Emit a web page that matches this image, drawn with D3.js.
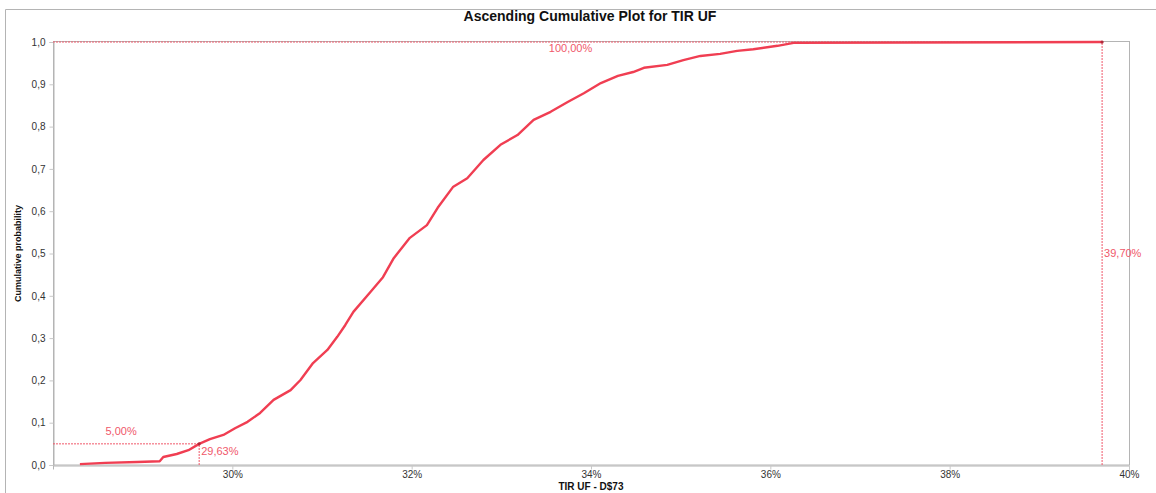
<!DOCTYPE html>
<html>
<head>
<meta charset="utf-8">
<script src="https://cdn.jsdelivr.net/npm/d3@7"></script>
<style>
  body { margin: 0; background: #fff; }
  text { font-family: Arial, "Liberation Sans", sans-serif; }
</style>
</head>
<body>
<div id="cdf-chart"></div>
<script>
// ascending cumulative plot, values //

// TIR UF (%) and the cumulative probability at each point
var tirValues = [28.30, 28.58, 28.94, 29.19, 29.23, 29.38, 29.51, 29.63, 29.75, 29.90,
                 30.03, 30.17, 30.31, 30.46, 30.65, 30.76, 30.90, 31.06, 31.17, 31.26,
                 31.35, 31.54, 31.68, 31.80, 31.98, 32.17, 32.29, 32.46, 32.62, 32.80,
                 32.99, 33.18, 33.36, 33.55, 33.74, 33.92, 34.11, 34.30, 34.47, 34.59,
                 34.85, 35.03, 35.22, 35.44, 35.63, 35.81, 36.08, 36.26, 39.70];
var cumProb   = [0.002, 0.005, 0.007, 0.009, 0.019, 0.026, 0.035, 0.050, 0.061, 0.071,
                 0.087, 0.102, 0.123, 0.154, 0.177, 0.201, 0.241, 0.272, 0.303, 0.331,
                 0.362, 0.409, 0.444, 0.489, 0.537, 0.567, 0.608, 0.657, 0.678, 0.721,
                 0.757, 0.780, 0.816, 0.835, 0.858, 0.879, 0.903, 0.920, 0.929, 0.939,
                 0.946, 0.957, 0.967, 0.972, 0.979, 0.983, 0.991, 0.998, 1.000];

var xTicks = [30, 32, 34, 36, 38, 40];
var yTicks = [0, 0.1, 0.2, 0.3, 0.4, 0.5, 0.6, 0.7, 0.8, 0.9, 1.0];

// markers shown on the plot: [x value, probability]
var lowMarker  = [29.63, 0.05];
var highMarker = [39.70, 1.00];

var w = 1156;
var h = 493;
var margin = {top: 42, right: 27, bottom: 28, left: 53};

var red = "#f03e52";
var pink = "#f0586a";

// comma as decimal separator
var locale = d3.formatLocale({decimal: ",", thousands: ".", grouping: [3], currency: ["", "$"]});
var fmt1 = locale.format(".1f");
var fmt2 = locale.format(".2f");

var svg = d3.select("#cdf-chart")
            .append("svg")
            .attr("width", w)
            .attr("height", h);

// outer frame
svg.append("path")
   .attr("d", "M5.5," + h + "V9.5H" + w)
   .attr("fill", "none")
   .attr("stroke", "#b4b4b4");

var x = d3.scaleLinear().domain([28, 40]).range([margin.left, w - margin.right]);
var y = d3.scaleLinear().domain([0, 1]).range([h - margin.bottom, margin.top]);

// plot border
svg.append("rect")
   .attr("x", x(28) + 0.5)
   .attr("y", y(1) - 0.5)
   .attr("width", x(40) - x(28))
   .attr("height", y(0) - y(1) + 0.5)
   .attr("fill", "none")
   .attr("stroke", "#b4b4b4");

// axes
var xAxis = d3.axisBottom(x)
              .tickValues(xTicks)
              .tickSize(4)
              .tickFormat(function(d) { return d + "%"; });

var yAxis = d3.axisLeft(y)
              .tickValues(yTicks)
              .tickSize(4)
              .tickFormat(fmt1);

var gx = svg.append("g")
            .attr("transform", "translate(0," + (y(0) + 0.5) + ")")
            .call(xAxis);
var gy = svg.append("g")
            .attr("transform", "translate(" + (x(28) + 0.5) + ",0)")
            .call(yAxis);

[gx, gy].forEach(function(g) {
  g.select(".domain").attr("stroke", "#b4b4b4");
  g.selectAll(".tick line").attr("stroke", "#c8c8c8");
  g.selectAll(".tick text")
   .attr("fill", "#333")
   .style("font-size", "10px")
   .style("font-family", "Arial, 'Liberation Sans', sans-serif");
});
gx.selectAll(".tick text").attr("y", 12.5).attr("dy", 0);
gy.selectAll(".tick text").attr("x", -8);

// titles
svg.append("text")
   .attr("x", 590)
   .attr("y", 21)
   .attr("text-anchor", "middle")
   .style("font-size", "14px")
   .style("font-weight", "bold")
   .attr("fill", "#111")
   .text("Ascending Cumulative Plot for TIR UF");

svg.append("text")
   .attr("x", (x(28) + x(40)) / 2)
   .attr("y", 489.5)
   .attr("text-anchor", "middle")
   .style("font-size", "10px")
   .style("font-weight", "bold")
   .attr("fill", "#111")
   .text("TIR UF - D$73");

svg.append("text")
   .attr("transform", "translate(21," + ((y(0) + y(1)) / 2) + ") rotate(-90)")
   .attr("text-anchor", "middle")
   .style("font-size", "9px")
   .style("font-weight", "bold")
   .attr("fill", "#111")
   .text("Cumulative probability");

// marker guide lines
var guides = [
  [lowMarker[0], lowMarker[0], 0, lowMarker[1]],
  [28, lowMarker[0], lowMarker[1], lowMarker[1]],
  [28, highMarker[0], highMarker[1], highMarker[1]],
  [highMarker[0], highMarker[0], 0, highMarker[1]]
];
svg.selectAll("line.guide")
   .data(guides)
   .enter()
   .append("line")
   .attr("class", "guide")
   .attr("x1", function(d) { return x(d[0]); })
   .attr("x2", function(d) { return x(d[1]); })
   .attr("y1", function(d) { return y(d[2]); })
   .attr("y2", function(d) { return y(d[3]); })
   .attr("stroke", pink)
   .attr("stroke-width", 1)
   .attr("stroke-dasharray", "2,1");

// the curve
var points = tirValues.map(function(v, i) { return [v, cumProb[i]]; });
var line = d3.line()
             .x(function(d) { return x(d[0]); })
             .y(function(d) { return y(d[1]); });

svg.append("path")
   .datum(points)
   .attr("d", line)
   .attr("fill", "none")
   .attr("stroke", red)
   .attr("stroke-width", 2.4)
   .attr("stroke-linejoin", "round");

// small dots where the guides meet the curve
svg.selectAll("circle.marker")
   .data([lowMarker, highMarker])
   .enter()
   .append("circle")
   .attr("class", "marker")
   .attr("cx", function(d) { return x(d[0]); })
   .attr("cy", function(d) { return y(d[1]); })
   .attr("r", 1.6)
   .attr("fill", "#b02a3a");

// marker labels
function label(tx, ty, anchor, str) {
  svg.append("text")
     .attr("x", tx)
     .attr("y", ty)
     .attr("text-anchor", anchor)
     .style("font-size", "11px")
     .attr("fill", pink)
     .text(str);
}
label((x(28) + x(lowMarker[0])) / 2 - 5, y(lowMarker[1]) - 9, "middle", fmt2(lowMarker[1] * 100) + "%");
label(x(lowMarker[0]) + 2, y(lowMarker[1]) + 11, "start", fmt2(lowMarker[0]) + "%");
label((x(28) + x(highMarker[0])) / 2 - 7, y(highMarker[1]) + 10, "middle", fmt2(highMarker[1] * 100) + "%");
label(x(highMarker[0]) + 2, (y(0) + y(1)) / 2 + 3, "start", fmt2(highMarker[0]) + "%");
</script>
</body>
</html>
